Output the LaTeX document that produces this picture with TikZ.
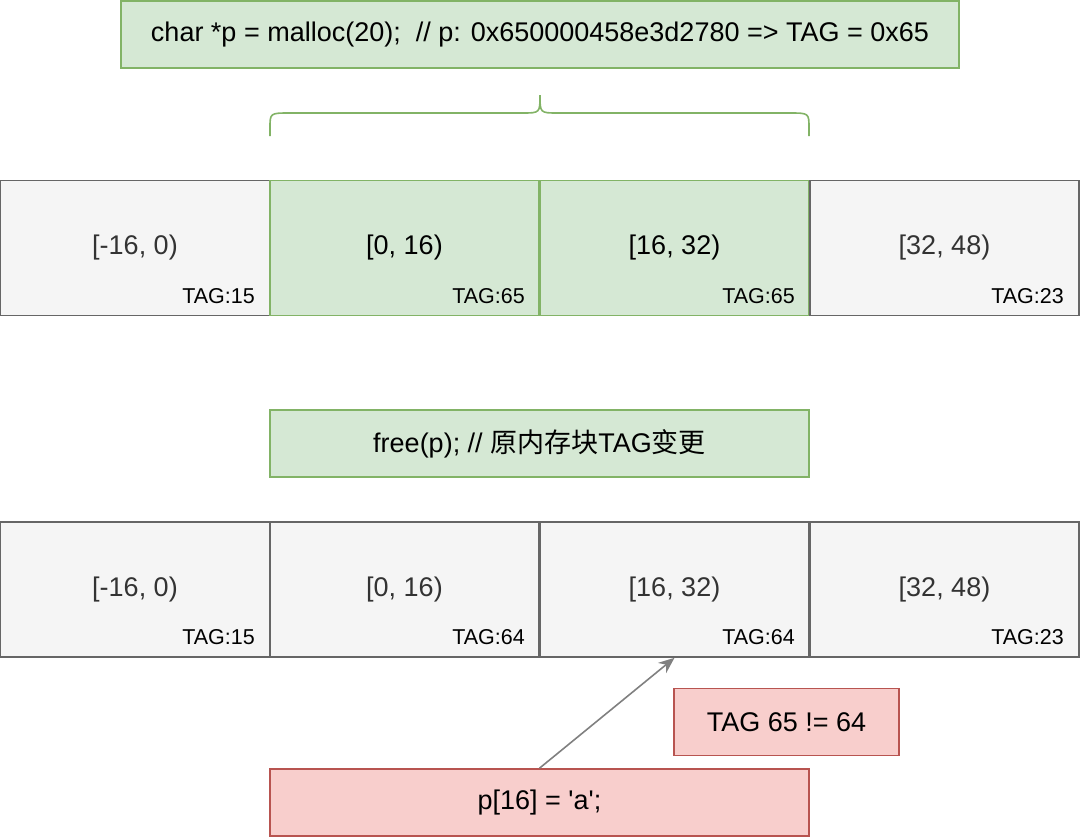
\documentclass[tikz,border=0pt]{standalone}
\usepackage{fontspec}
\setmainfont{Liberation Sans}
\newfontfamily\cjk{Noto Sans CJK SC}
\usetikzlibrary{arrows.meta}
\definecolor{greenfill}{HTML}{D5E8D4}
\definecolor{greenline}{HTML}{82B366}
\definecolor{greyfill}{HTML}{F5F5F5}
\definecolor{greyline}{HTML}{666666}
\definecolor{greytext}{HTML}{333333}
\definecolor{redfill}{HTML}{F8CECC}
\definecolor{redline}{HTML}{B85450}
\definecolor{arrowgrey}{HTML}{808080}

\begin{document}
\begin{tikzpicture}[x=1pt,y=-1pt]
                \tikzstyle{box}=[draw, line width=1.6pt, inner sep=0pt, font=\fontsize{27}{32}\selectfont]
                \tikzstyle{cell}=[box, minimum width=269.5pt, minimum height=135pt]
                \tikzstyle{greycell}=[cell, fill=greyfill, draw=greyline, text=greytext]
                \tikzstyle{greencell}=[cell, fill=greenfill, draw=greenline]
                \tikzstyle{greenbox}=[box, fill=greenfill, draw=greenline, minimum height=67pt]
                \tikzstyle{redbox}=[box, fill=redfill, draw=redline, minimum height=67pt]
                \tikzstyle{tag}=[inner sep=0pt, anchor=base east, font=\fontsize{21.5}{26}\selectfont]

                \useasboundingbox (0,0) rectangle (1080,838);

                % malloc
                \node[greenbox, minimum width=838pt] (malloc) at (540,34.5) {char *p = malloc(20);\ \ // p: 0x650000458e3d2780 => TAG = 0x65};
                \draw[greenline, line width=1.6pt] (270,136) -- (270,128) .. controls (270,113) .. (290,113) -- (522,113) .. controls (540,113) .. (540,95)
                        .. controls (540,113) .. (558,113) -- (789,113) .. controls (809,113) .. (809,128) -- (809,136);

                % row 1
                \node[greycell]  (c11) at (135,248)   {[-16, 0)};
                \node[greencell] (c12) at (404.5,248) {[0, 16)};
                \node[greencell] (c13) at (674.5,248) {[16, 32)};
                \node[greycell]  (c14) at (944.5,248) {[32, 48)};
                \node[tag] (t11) at (255,303)  {TAG:15};
                \node[tag] (t12) at (525,303)  {TAG:65};
                \node[tag] (t13) at (795,303)  {TAG:65};
                \node[tag] (t14) at (1064,303) {TAG:23};

                % free
                \node[greenbox, minimum width=539pt] (free) at (539.5,443.5) {free(p); // {\cjk 原内存块}TAG{\cjk 变更}};

                % row 2
                \node[greycell] (c21) at (135,589.5)   {[-16, 0)};
                \node[greycell] (c22) at (404.5,589.5) {[0, 16)};
                \node[greycell] (c23) at (674.5,589.5) {[16, 32)};
                \node[greycell] (c24) at (944.5,589.5) {[32, 48)};
                \node[tag] (t21) at (255,644)  {TAG:15};
                \node[tag] (t22) at (525,644)  {TAG:64};
                \node[tag] (t23) at (795,644)  {TAG:64};
                \node[tag] (t24) at (1064,644) {TAG:23};

                % access
                \node[redbox, minimum width=225pt] (check) at (786.5,722) {TAG 65 != 64};
                \node[redbox, minimum width=539pt] (pa) at (539.5,802.5) {p[16] = \textquotesingle a\textquotesingle;};
                \draw[arrowgrey, line width=1.6pt, -{Stealth[length=16pt, width=13pt]}] (pa.north) -- (c23.south);
            \end{tikzpicture}
\end{document}
